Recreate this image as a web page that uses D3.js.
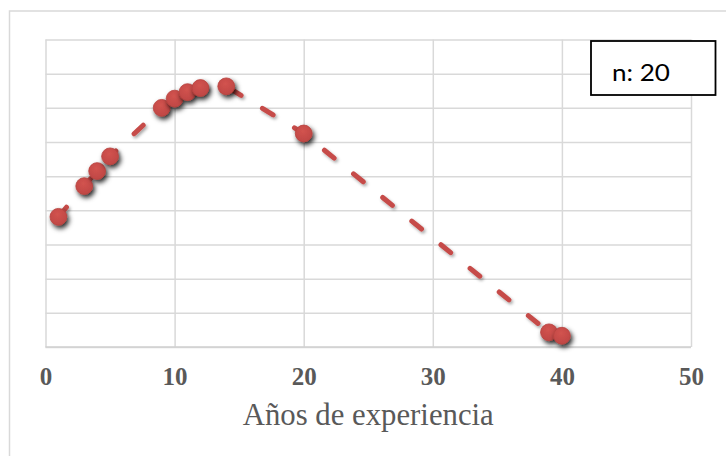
<!DOCTYPE html>
<html>
<head>
<meta charset="utf-8">
<script src="https://cdn.jsdelivr.net/npm/d3@7/dist/d3.min.js"></script>
<style>
  html, body { margin: 0; padding: 0; background: #ffffff; }
  svg { display: block; }
</style>
</head>
<body>
<svg id="chart" width="726" height="456"></svg>
<script>
// Years of experience and the (unlabelled) response, one entry per point
const years  = [1, 3, 4, 5, 9, 10, 11, 12, 14, 20, 39, 40];
const values = [3.81, 4.71, 5.15, 5.58, 7.0, 7.27, 7.46, 7.58, 7.63, 6.25, 0.43, 0.33];
const xTicks = [0, 10, 20, 30, 40, 50];
const yTicks = [0, 1, 2, 3, 4, 5, 6, 7, 8, 9];
const xTitle = "Años de experiencia";
const sampleLabel = "n: 20";

const svg = d3.select("#chart");
const plot = { left: 45.5, right: 691, top: 39.5, bottom: 347 };
const red = "#c64b48";

const x = d3.scaleLinear().domain([0, 50]).range([plot.left, plot.right]);
const y = d3.scaleLinear().domain([0, 9]).range([plot.bottom, plot.top]);

const defs = svg.append("defs");
const markerShadow = defs.append("filter").attr("id", "markerShadow")
  .attr("x", "-50%").attr("y", "-50%").attr("width", "220%").attr("height", "220%");
markerShadow.append("feDropShadow")
  .attr("dx", 2).attr("dy", 3).attr("stdDeviation", 2.4)
  .attr("flood-color", "#000").attr("flood-opacity", 0.85);
const lineShadow = defs.append("filter").attr("id", "lineShadow")
  .attr("x", "-20%").attr("y", "-20%").attr("width", "140%").attr("height", "140%");
lineShadow.append("feDropShadow")
  .attr("dx", 1.5).attr("dy", 2).attr("stdDeviation", 1.8)
  .attr("flood-color", "#000").attr("flood-opacity", 0.35);
const grad = defs.append("radialGradient").attr("id", "markerFill")
  .attr("cx", "45%").attr("cy", "35%").attr("r", "65%");
grad.append("stop").attr("offset", "0%").attr("stop-color", "#d2534f");
grad.append("stop").attr("offset", "100%").attr("stop-color", "#bf4744");

// Chart frame (cropped on the right and bottom)
svg.append("rect")
  .attr("x", 9.5).attr("y", 11).attr("width", 760).attr("height", 500)
  .attr("fill", "none").attr("stroke", "#d9d9d9").attr("stroke-width", 1.5);

// Horizontal gridlines
const yGrid = svg.append("g")
  .attr("transform", `translate(${plot.left},0)`)
  .call(d3.axisLeft(y).tickValues(yTicks).tickSize(-(plot.right - plot.left)).tickFormat(""));
yGrid.select(".domain").remove();
yGrid.selectAll("line").attr("stroke", "#d9d9d9").attr("stroke-width", 1.5);

// Vertical gridlines
const xGrid = svg.append("g")
  .attr("transform", `translate(0,${plot.bottom})`)
  .call(d3.axisBottom(x).tickValues(xTicks).tickSize(-(plot.bottom - plot.top)).tickFormat(""));
xGrid.select(".domain").remove();
xGrid.selectAll("line").attr("stroke", "#d9d9d9").attr("stroke-width", 1.5);

// Bottom axis line and tick labels
svg.append("line")
  .attr("x1", plot.left).attr("x2", plot.right)
  .attr("y1", plot.bottom).attr("y2", plot.bottom)
  .attr("stroke", "#d0d0d0").attr("stroke-width", 1.5);

const xAxis = svg.append("g")
  .attr("transform", `translate(0,${plot.bottom})`)
  .call(d3.axisBottom(x).tickValues(xTicks).tickSize(0).tickPadding(0).tickFormat(d3.format("d")));
xAxis.select(".domain").remove();
xAxis.selectAll("text")
  .attr("y", 37.5).attr("dy", null)
  .attr("font-family", "'Liberation Serif', 'DejaVu Serif', serif")
  .attr("font-weight", "bold")
  .attr("font-size", 25)
  .attr("fill", "#595959");

// Axis title
svg.append("text")
  .attr("x", (plot.left + plot.right) / 2).attr("y", 425)
  .attr("text-anchor", "middle")
  .attr("font-family", "'Liberation Serif', 'DejaVu Serif', serif")
  .attr("font-size", 32)
  .attr("fill", "#595959")
  .attr("textLength", 251).attr("lengthAdjust", "spacingAndGlyphs")
  .text(xTitle);

// Dashed connecting line
const pts = years.map((yr, i) => ({ yr, v: values[i] }));
const line = d3.line().x(d => x(d.yr)).y(d => y(d.v));
svg.append("path")
  .datum(pts)
  .attr("d", line)
  .attr("fill", "none")
  .attr("stroke", red)
  .attr("stroke-width", 5)
  .attr("stroke-linecap", "round")
  .attr("stroke-dasharray", "12.5,25")
  .attr("filter", "url(#lineShadow)");

// Markers
svg.append("g").selectAll("circle")
  .data(pts)
  .join("circle")
  .attr("cx", d => x(d.yr))
  .attr("cy", d => y(d.v))
  .attr("r", 8.4)
  .attr("fill", "url(#markerFill)")
  .attr("stroke", "#b8423f")
  .attr("stroke-width", 0.8)
  .attr("filter", "url(#markerShadow)");

// Sample size box
svg.append("rect")
  .attr("x", 591).attr("y", 41).attr("width", 124.5).attr("height", 54)
  .attr("fill", "#ffffff").attr("stroke", "#000").attr("stroke-width", 1.8);
svg.append("text")
  .attr("x", 612).attr("y", 80.5)
  .attr("font-family", "Lato, 'Open Sans', sans-serif")
  .attr("font-size", 24)
  .attr("fill", "#000")
  .attr("textLength", 58).attr("lengthAdjust", "spacingAndGlyphs")
  .text(sampleLabel);
</script>
</body>
</html>
